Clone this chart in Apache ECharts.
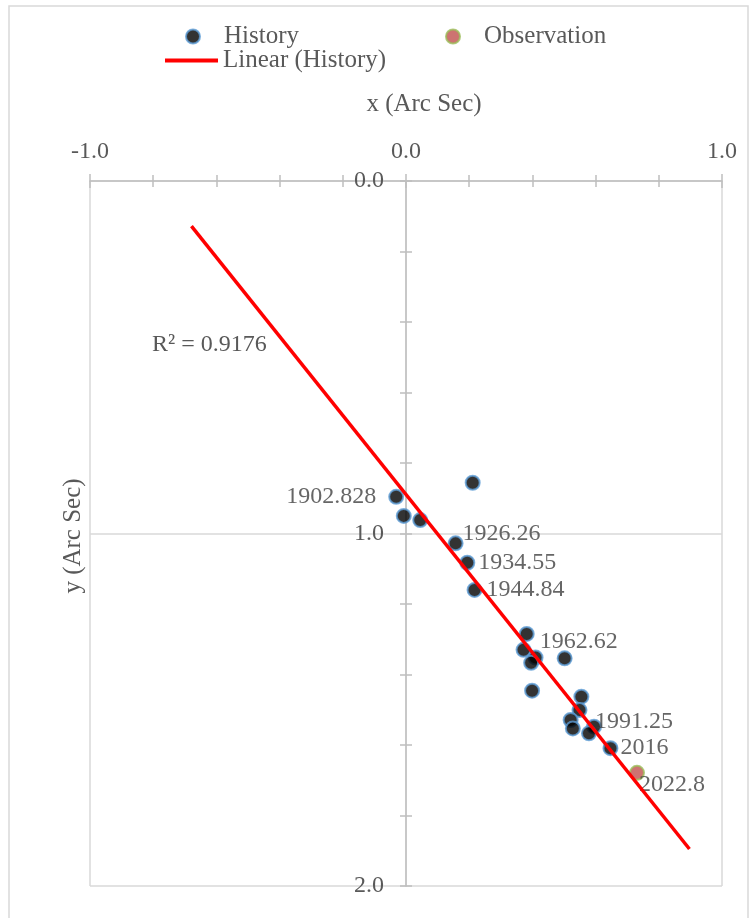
<!DOCTYPE html>
<html>
<head>
<meta charset="utf-8">
<script src="https://cdn.jsdelivr.net/npm/echarts@6/dist/echarts.min.js"></script>
<style>html,body{margin:0;padding:0;background:#fff}#c{width:756px;height:918px}</style>
</head>
<body>
<div id="c"></div>
<script>
// ---- data ----
const historyX = [-0.031, -0.007, 0.045, 0.211, 0.157, 0.194, 0.217, 0.382, 0.372, 0.410, 0.396, 0.502, 0.399, 0.555, 0.549, 0.521, 0.528, 0.595, 0.579, 0.647];
const historyY = [0.896, 0.950, 0.962, 0.856, 1.028, 1.083, 1.160, 1.285, 1.330, 1.352, 1.367, 1.354, 1.446, 1.463, 1.501, 1.529, 1.553, 1.548, 1.567, 1.609];
const historyYear = ['1902.828', '', '', '', '1926.26', '1934.55', '1944.84', '1962.62', '', '', '', '', '', '', '', '', '', '1991.25', '', '2016'];
const observationX = [0.731];
const observationY = [1.679];
const observationYear = ['2022.8'];
const trendX = [-0.679, 0.897];
const trendY = [0.128, 1.895];
const rSquaredText = 'R² = 0.9176';
const xAxisTitle = 'x (Arc Sec)';
const yAxisTitle = 'y (Arc Sec)';

// ---- label placement (styles) ----
const labelPlacement = {
  '1902.828': { position: 'left', distance: 12 },
  '1926.26': { position: 'right', distance: -1, offset: [0, -10] },
  '1934.55': { position: 'right', distance: 3 },
  '1944.84': { position: 'right', distance: 4 },
  '1962.62': { position: 'right', distance: 5, offset: [0, 8] },
  '1991.25': { position: 'right', distance: -7, offset: [0, -5] },
  '2016': { position: 'right', distance: 2 },
  '2022.8': { position: 'right', distance: -6, offset: [0, 12] }
};

const FONT = 'Liberation Serif';
const TXT = '#595959';
const AX = '#bfbfbf';
const GRIDC = '#d9d9d9';
const GRID_LEFT = 90, GRID_RIGHT = 34;
const PLOT_W = 756 - GRID_LEFT - GRID_RIGHT;

function makePoints(xs, ys, names) {
  return xs.map((x, i) => {
    const n = names[i];
    const item = { name: n, value: [x, ys[i]] };
    if (n) {
      item.label = Object.assign({ show: true, formatter: '{b}' }, labelPlacement[n] || {});
    }
    return item;
  });
}

const fmt = v => (Math.abs(v - Math.round(v)) < 1e-9 ? v.toFixed(1) : '');

const X_MIN = -1, X_MAX = 1;
const commonX = { type: 'value', min: X_MIN, max: X_MAX, interval: 1, position: 'top' };
// y axis sits at x = 0: shift it from the grid's left edge by the width share of [min, 0]
const yOffset = -PLOT_W * (0 - X_MIN) / (X_MAX - X_MIN);
const commonY = { type: 'value', min: 0, max: 2, interval: 1, inverse: true, position: 'left', offset: yOffset };

const chart = echarts.init(document.getElementById('c'), null, { renderer: 'canvas' });
chart.setOption({
  animation: false,
  backgroundColor: '#fff',
  textStyle: { fontFamily: FONT },
  grid: { left: GRID_LEFT, right: GRID_RIGHT, top: 181, bottom: 32, containLabel: false },
  xAxis: [
    Object.assign({}, commonX, {
      name: xAxisTitle,
      nameLocation: 'middle',
      nameGap: 64,
      nameTextStyle: { color: TXT, fontSize: 25, fontFamily: FONT, padding: [0, 0, 0, 36] },
      axisLine: { show: true, onZero: false, lineStyle: { color: AX, width: 1.5 } },
      axisTick: { show: true, length: 7, lineStyle: { color: AX, width: 1.5 } },
      minorTick: { show: true, splitNumber: 5, length: 6, lineStyle: { color: AX, width: 1.5 } },
      axisLabel: { color: TXT, fontSize: 24, fontFamily: FONT, margin: 17, formatter: fmt },
      splitLine: { show: true, lineStyle: { color: GRIDC, width: 1.5 } }
    }),
    Object.assign({}, commonX, {
      axisLine: { show: false, onZero: false },
      axisTick: { show: true, inside: true, length: 7, lineStyle: { color: AX, width: 1.5 } },
      minorTick: { show: true, splitNumber: 5, length: 6, lineStyle: { color: AX, width: 1.5 } },
      axisLabel: { show: false },
      splitLine: { show: false }
    })
  ],
  yAxis: [
    Object.assign({}, commonY, {
      axisLine: { show: true, onZero: false, lineStyle: { color: AX, width: 1.5 } },
      axisTick: { show: true, length: 6, lineStyle: { color: AX, width: 1.5 } },
      minorTick: { show: true, splitNumber: 5, length: 6, lineStyle: { color: AX, width: 1.5 } },
      axisLabel: { color: TXT, fontSize: 24, fontFamily: FONT, margin: 22, formatter: fmt },
      splitLine: { show: true, lineStyle: { color: GRIDC, width: 1.5 } }
    }),
    Object.assign({}, commonY, {
      axisLine: { show: false, onZero: false },
      axisTick: { show: true, inside: true, length: 6, lineStyle: { color: AX, width: 1.5 } },
      minorTick: { show: true, splitNumber: 5, length: 6, lineStyle: { color: AX, width: 1.5 } },
      axisLabel: { show: false },
      splitLine: { show: false }
    })
  ],
  legend: [
    {
      data: ['History'], left: 185, top: 24, padding: 0,
      itemWidth: 14, itemHeight: 14, icon: 'circle',
      textStyle: { color: TXT, fontSize: 25, fontFamily: FONT, padding: [0, 0, 0, 19] }
    },
    {
      data: ['Observation'], left: 445, top: 24, padding: 0,
      itemWidth: 14, itemHeight: 14, icon: 'circle',
      textStyle: { color: TXT, fontSize: 25, fontFamily: FONT, padding: [0, 0, 0, 19] }
    },
    {
      data: ['Linear (History)'], left: 165, top: 48, padding: 0,
      itemWidth: 53, itemHeight: 4, icon: 'rect',
      textStyle: { color: TXT, fontSize: 25, fontFamily: FONT }
    }
  ],
  graphic: [
    {
      type: 'rect', silent: true, z: -10,
      shape: { x: 9, y: 6, width: 739, height: 930 },
      style: { fill: 'none', stroke: GRIDC, lineWidth: 1.5 }
    },
    {
      type: 'text', x: 73, y: 536, rotation: Math.PI / 2,
      style: { text: yAxisTitle, fill: TXT, font: '25px "Liberation Serif"', align: 'center', verticalAlign: 'middle' }
    },
    {
      type: 'text', x: 152, y: 345,
      style: { text: rSquaredText, fill: TXT, font: '24px "Liberation Serif"', align: 'left', verticalAlign: 'middle' }
    }
  ],
  series: [
    {
      name: 'History', type: 'scatter', xAxisIndex: 0, yAxisIndex: 0,
      symbol: 'circle', symbolSize: 14, z: 2,
      itemStyle: { color: '#000000', borderColor: '#5b9bd5', borderWidth: 2 },
      label: { show: false, color: '#404040', fontSize: 24, fontFamily: FONT },
      data: makePoints(historyX, historyY, historyYear)
    },
    {
      name: 'Observation', type: 'scatter', xAxisIndex: 0, yAxisIndex: 0,
      symbol: 'circle', symbolSize: 14, z: 2,
      itemStyle: { color: '#c0504d', borderColor: '#9bbb59', borderWidth: 2 },
      label: { show: false, color: '#404040', fontSize: 24, fontFamily: FONT },
      data: makePoints(observationX, observationY, observationYear)
    },
    {
      name: 'Linear (History)', type: 'line', xAxisIndex: 0, yAxisIndex: 0,
      symbol: 'none', z: 3,
      lineStyle: { color: '#ff0000', width: 3.5 },
      itemStyle: { color: '#ff0000' },
      data: trendX.map((x, i) => [x, trendY[i]])
    }
  ]
});
</script>
</body>
</html>
